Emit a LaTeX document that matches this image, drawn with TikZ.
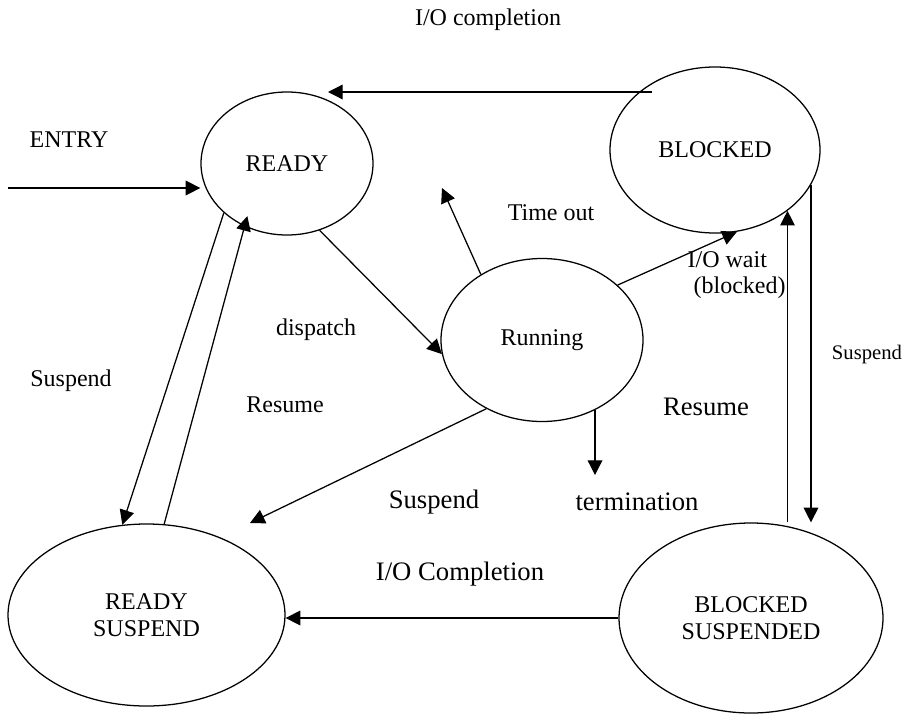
\documentclass[tikz,border=0pt]{standalone}
\usepackage{fontspec}
\setmainfont{Liberation Serif}
\usetikzlibrary{shapes.geometric,arrows.meta}

\begin{document}
\begin{tikzpicture}[x=0.75pt,y=-0.75pt,>={Triangle[length=11pt,width=11pt]},line width=0.95pt,
    state/.style={ellipse,draw,inner sep=0pt,align=center,font=\fontsize{18}{20}\selectfont},
    lbl/.style={inner sep=0pt,font=\fontsize{18}{20}\selectfont},
    big lbl/.style={inner sep=0pt,font=\fontsize{20}{22}\selectfont},
    small lbl/.style={inner sep=0pt,font=\fontsize{15.5}{18}\selectfont}]
    \useasboundingbox (0,0) rectangle (904,715);

    \node[state,minimum width=129pt,minimum height=107.25pt] (ready) at (287,163.5) {READY};
    \node[state,minimum width=157.5pt,minimum height=124.5pt] (blocked) at (715,150) {BLOCKED};
    \node[state,minimum width=151.5pt,minimum height=122.25pt] (running) at (542,340) {Running};
    \node[state,minimum width=207.75pt,minimum height=136.5pt] (rsusp) at (146.5,615) {READY\\SUSPEND};
    \node[state,minimum width=198pt,minimum height=142.5pt] (bsusp) at (751,618) {BLOCKED\\SUSPENDED};

    \coordinate (entry) at (8,188);
    \coordinate (iocfrom) at (652,92);
    \coordinate (iocto) at (328,92);
    \coordinate (timeout) at (442,188);
    \coordinate (suspto) at (250,523);
    \coordinate (term) at (595,475);

    \path[->]
        (entry) edge (entry -| ready.west)
        (iocfrom) edge (iocto)
        (ready.-64) edge (running.188)
        (running.133) edge (timeout)
        (running.36) edge (blocked.-75)
        (running.231) edge (suspto)
        (term |- running.-53) edge (term)
        (ready.218) edge (rsusp.105)
        (rsusp.79) edge[shorten >=-8pt] (ready.236)
        (bsusp.west) edge (bsusp.west -| rsusp.east)
        (blocked.-40 |- bsusp.north) edge (blocked.-40)
        (blocked.-20) edge (blocked.-20 |- bsusp.north)
        ;

    \node[lbl] (lentry) at (69,140) {ENTRY};
    \node[lbl] (lioc) at (488,20) {I/O completion};
    \node[lbl] (ltimeout) at (551,213) {Time out};
    \node[lbl,align=left,anchor=west] (liowait) at (687,275) {I/O wait\\\hspace*{4.5pt}(blocked)};
    \node[lbl] (ldispatch) at (316,330) {dispatch};
    \node[lbl] (lsusp1) at (71,381) {Suspend};
    \node[lbl] (lresume1) at (285,405) {Resume};
    \node[big lbl] (lsusp2) at (434,502) {Suspend};
    \node[big lbl] (lterm) at (637,502) {termination};
    \node[big lbl] (lresume2) at (706,407) {Resume};
    \node[big lbl] (lioc2) at (460,574) {I/O Completion};
    \node[small lbl] (lsusp3) at (867,355) {Suspend};
\end{tikzpicture}
\end{document}
